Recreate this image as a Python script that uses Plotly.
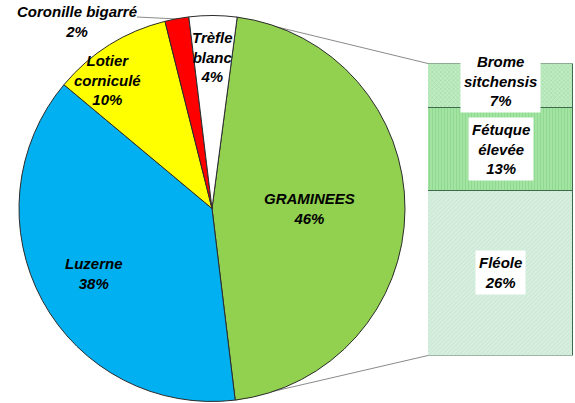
import plotly.graph_objects as go

W, H = 575, 403

# ---- data ----
pie_labels = ["GRAMINEES", "Luzerne", "Lotier<br>corniculé", "Coronille bigarré", "Trèfle<br>blanc"]
pie_values = [46, 38, 10, 2, 4]
pie_colors = ["#92d050", "#00b0f0", "#ffff00", "#ff0000", "#ffffff"]

bar_labels = ["Fléole", "Fétuque<br>élevée", "Brome<br>sitchensis"]
bar_values = [26, 13, 7]

def px(x, y):
    return x / W, 1 - y / H

fig = go.Figure()

fig.add_trace(go.Pie(
    labels=pie_labels, values=pie_values, sort=False, direction="clockwise",
    rotation=7.5, marker=dict(colors=pie_colors, line=dict(color="#2b2b2b", width=1)),
    textinfo="none", hoverinfo="label+percent", showlegend=False,
    domain=dict(x=[19 / W, 405 / W], y=[1 - 401.5 / H, 1 - 15.5 / H]),
))

bar_styles = [
    dict(bg="#d8efe0", fg="#b3dcc1", shape="/", size=3, sol=0.3),
    dict(bg="#a6e6a6", fg="#78cc7c", shape="|", size=3, sol=0.45),
    dict(bg="#c2ecc4", fg="#80cf86", shape="x", size=3, sol=0.4),
]
for lab, v, st in zip(bar_labels, bar_values, bar_styles):
    fig.add_trace(go.Bar(
        x=[0], y=[v], name=lab.replace("<br>", " "), width=1,
        marker=dict(color=st["bg"], line=dict(color="#3f6a4e", width=1),
                    pattern=dict(shape=st["shape"], fgcolor=st["fg"], bgcolor=st["bg"],
                                 size=st["size"], solidity=st["sol"])),
        showlegend=False, xaxis="x", yaxis="y",
    ))

font = dict(family="Liberation Sans, Arial", size=15, color="#000000", weight="bold", style="italic")
ann = []
total = sum(pie_values)
pie_pos = [(309, 208), (94, 273), (108, 80), (77, 21), (212, 57)]
for lab, v, (x, y) in zip(pie_labels, pie_values, pie_pos):
    xx, yy = px(x, y)
    ann.append(dict(x=xx, y=yy, xref="paper", yref="paper", showarrow=False,
                    text=f"{lab}<br>{round(100 * v / total)}%", font=font,
                    xanchor="center", yanchor="middle"))

cum = 0
shifts = [0, 0, 5]
for lab, v, sh in zip(bar_labels, bar_values, shifts):
    ann.append(dict(x=0, y=cum + v / 2, xref="x", yref="y", showarrow=False,
                    text=f"{lab}<br>{v}%", font=font, bgcolor="#ffffff",
                    borderpad=3, yshift=sh, xanchor="center", yanchor="middle"))
    cum += v

def line(x0, y0, x1, y1):
    a, b = px(x0, y0)
    c, d = px(x1, y1)
    return dict(type="line", xref="paper", yref="paper", x0=a, y0=b, x1=c, y1=d,
                line=dict(color="#8a8a8a", width=1), layer="below")

shapes = [line(236, 17, 428, 63.5), line(236, 400, 428, 355.5), line(137, 17, 178, 19)]

fig.update_layout(
    width=W, height=H, margin=dict(l=0, r=0, t=0, b=0),
    paper_bgcolor="white", plot_bgcolor="rgba(0,0,0,0)",
    barmode="stack", bargap=0,
    xaxis=dict(domain=[428 / W, 573 / W], range=[-0.5, 0.5], visible=False, fixedrange=True),
    yaxis=dict(domain=[1 - 355.5 / H, 1 - 63.5 / H], range=[0, sum(bar_values)], visible=False),
    annotations=ann, shapes=shapes, showlegend=False,
)

fig.write_html("out.html", config={"displayModeBar": False},
               post_script="document.body.style.margin='0';document.body.style.overflow='hidden';")
